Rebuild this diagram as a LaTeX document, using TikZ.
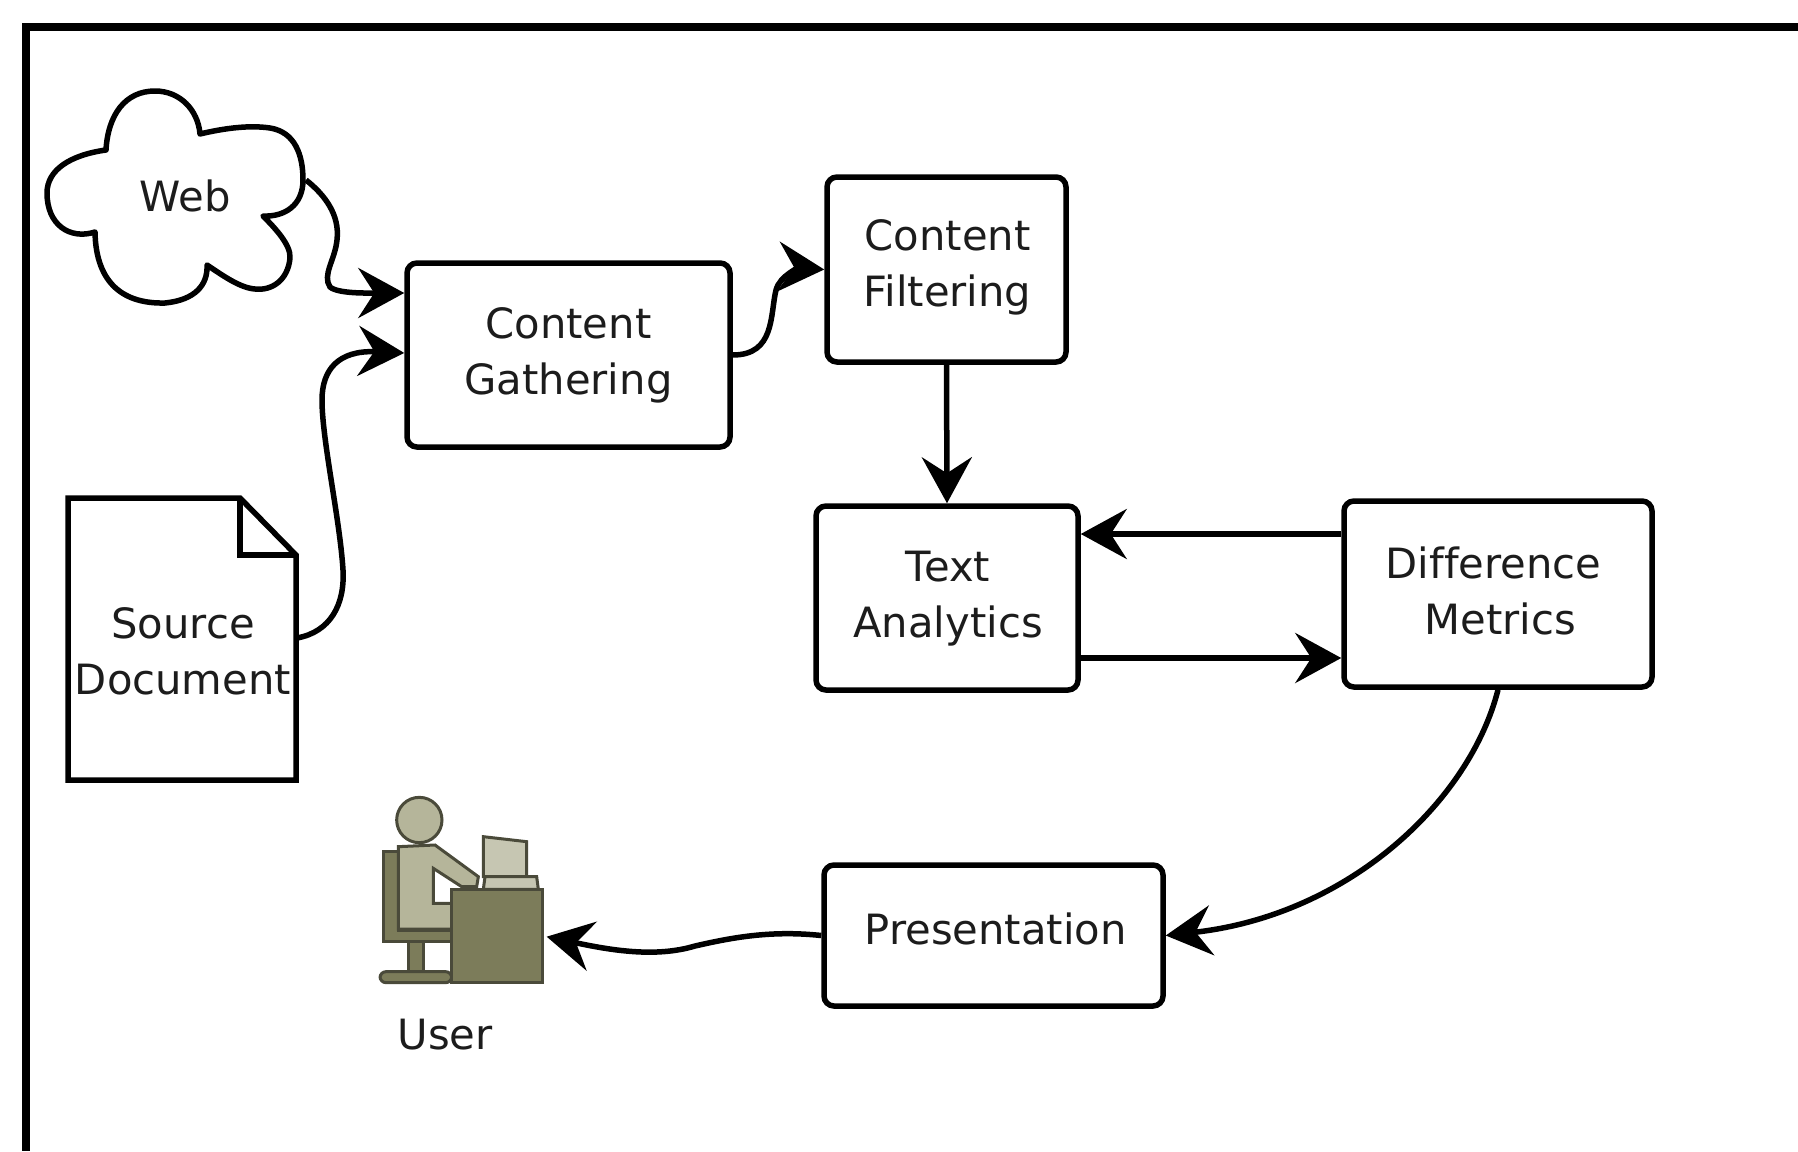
\documentclass[tikz,border=0pt]{standalone}
\usepackage{fontspec}
\setmainfont[Ligatures=NoCommon]{DejaVu Sans}
\usetikzlibrary{arrows.meta}
\definecolor{txt}{HTML}{1C1C1C}
\definecolor{skin}{HTML}{B5B59A}
\definecolor{desk}{HTML}{7C7C5A}
\definecolor{edge}{HTML}{4A4A3A}
\definecolor{screen}{HTML}{C6C6B2}
\tikzset{
  procbox/.style={draw=black,line width=5.5pt,rounded corners=10pt,fill=white,inner sep=0pt},
  label/.style={inner sep=0pt,align=center,text=txt},
  flow/.style={draw=black,line width=5.5pt,-{Stealth[length=46pt,width=50pt,inset=16pt]}},
  outline/.style={draw=black,line width=5.5pt,line join=round,fill=white},
  icon/.style={draw=edge,line width=3pt,line join=miter},
  every node/.append style={font=\fontsize{41.7}{56}\selectfont}
}
\begin{document}
\begin{tikzpicture}[x=1pt,y=-1pt]
\useasboundingbox (0,0) rectangle (1798,1151);
\fill[white] (0,0) rectangle (1798,1151);
% frame
\draw[black,line width=7.5pt] (1798,27) -- (26,27) -- (26,1151);
% cloud
\draw[outline] (106,150) .. controls (108,115) and (125,91) .. (155,91)
  .. controls (180,91) and (198,110) .. (200,134)
  .. controls (225,128) and (250,125) .. (270,128)
  .. controls (295,132) and (303,155) .. (303,180)
  .. controls (303,205) and (285,217) .. (263,216)
  .. controls (275,228) and (291,245) .. (290,258)
  .. controls (288,280) and (272,291) .. (255,289)
  .. controls (240,288) and (222,275) .. (207,265)
  .. controls (208,285) and (195,300) .. (165,303)
  .. controls (125,304) and (96,285) .. (95,232)
  .. controls (70,240) and (47,225) .. (47,193)
  .. controls (47,170) and (70,155) .. (106,150) -- cycle;
\node[label] (web) at (185,196) {Web};
\coordinate (webout) at (306,180);
% document
\draw[outline,line join=miter] (68,498) -- (240,498) -- (296,555) -- (296,780) -- (68,780) -- cycle;
\draw[black,line width=5.5pt,line join=miter] (240,498) -- (240,555) -- (296,555);
\node[label] (src) at (183,651) {Source\\Document};
\coordinate (srcout) at (297,638);
% boxes
\node[procbox,minimum width=323pt,minimum height=184pt] (gather) at (568.5,355) {};
\node[label] at (568.5,355) {Content\\Gathering};
\node[procbox,minimum width=239pt,minimum height=185pt] (filter) at (946.5,269.5) {};
\node[label] at (947.5,267) {Content\\Filtering};
\node[procbox,minimum width=262pt,minimum height=184pt] (text) at (947,598) {};
\node[label] at (948,599) {Text\\Analytics};
\node[procbox,minimum width=308pt,minimum height=186pt] (diff) at (1498,594) {};
\node[label] at (1493.5,590.5) {Difference\\\hspace*{14pt}Metrics};
\node[procbox,minimum width=339pt,minimum height=141pt] (pres) at (993.5,935.5) {};
\node[label] at (995.8,928.5) {Presentation};
% user icon
\begin{scope}[shift={(350,770)},scale=0.33333]
  \draw[icon,fill=desk] (100,245) -- (145,245) -- (145,480) -- (305,480) -- (305,515) -- (100,515) -- cycle;
  \draw[icon,fill=desk] (175,515) rectangle (220,605);
  \draw[icon,fill=desk,rounded corners=6pt] (90,605) rectangle (305,638);
  \draw[icon,fill=skin] (145,230) -- (255,225) -- (385,320) -- (380,350) -- (335,350) -- (250,295) -- (250,400) -- (305,400) -- (305,477) -- (145,477) -- cycle;
  \draw[icon,fill=skin] (208,150) circle (68);
  \draw[icon,fill=screen] (400,200) -- (530,215) -- (530,320) -- (400,320) -- cycle;
  \draw[icon,fill=screen] (405,320) -- (560,320) -- (565,358) -- (400,358) -- cycle;
  \draw[icon,fill=desk] (305,358) rectangle (577,638);
  \coordinate (userin) at (590,500);
\end{scope}
\node[label] (user) at (445,1035) {User};
% connectors
\path[flow] (webout) .. controls (325,195) and (340,215) .. (337,240)
  .. controls (335,260) and (322,275) .. (330,287)
  .. controls (338,294) and (370,293) .. (gather.west |- 0,293);
\path[flow] (srcout) .. controls (330,632) and (345,605) .. (343,570)
  .. controls (340,520) and (322,440) .. (322,400)
  .. controls (322,370) and (338,350) .. (gather.west |- 0,353);
\path[flow] (gather.east) .. controls (775,355) and (770,315) .. (776,290)
  .. controls (780,275) and (800,268) .. (filter.west);
\path[flow] (filter.south) -- (text.north);
\path[flow] (diff.west |- 0,534) -- (text.east |- 0,534);
\path[flow] (text.east |- 0,658) -- (diff.west |- 0,658);
\path[flow] (diff.south) .. controls (1470,800) and (1350,915) .. (pres.east);
\path[flow] (pres.west) .. controls (770,930) and (730,938) .. (695,946)
  .. controls (655,958) and (610,950) .. (userin);
\end{tikzpicture}
\end{document}
